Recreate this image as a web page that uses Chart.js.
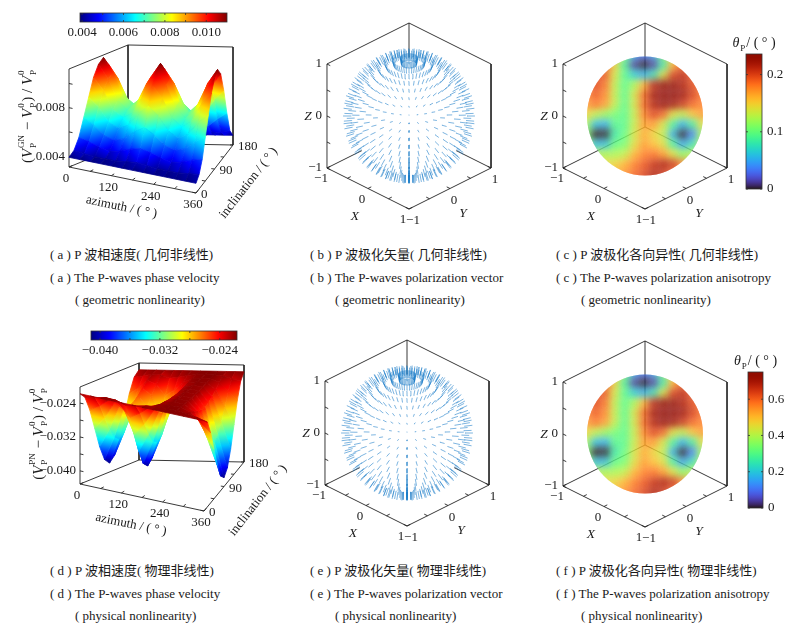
<!DOCTYPE html>
<html>
<head>
<meta charset="utf-8">
<script src="https://cdn.jsdelivr.net/npm/chart.js@4.4.1/dist/chart.umd.min.js"></script>
<style>
  body { margin: 0; background: #fff; }
  #page { position: relative; width: 800px; height: 626px; overflow: hidden; background: #fff; }
  canvas.panel { position: absolute; }
  .cap { position: absolute; font-family: "Liberation Serif", "Noto Sans CJK SC", serif; font-size: 13px;
         line-height: 14px; color: #1a1a1a; white-space: nowrap; }
</style>
</head>
<body>
<div id="page"></div>
<script>
// ---- values ----
const azimuthDeg = [0, 30, 60, 90, 120, 150, 180, 210, 240, 270, 300, 330, 360];
const inclinationDeg = [0, 15, 30, 45, 60, 75, 90, 105, 120, 135, 150, 165, 180];

// (V_P^GN - V_P^0) / V_P^0 ; rows follow inclinationDeg, columns follow azimuthDeg
const velocityGN = [
  [0.0039, 0.0039, 0.0039, 0.0039, 0.0039, 0.0039, 0.0039, 0.0039, 0.0039, 0.0039, 0.0039, 0.0039, 0.0039],
  [0.0043, 0.0042, 0.0041, 0.0041, 0.0041, 0.0042, 0.0043, 0.0042, 0.0041, 0.0041, 0.0041, 0.0042, 0.0043],
  [0.0052, 0.0050, 0.0047, 0.0045, 0.0047, 0.0050, 0.0052, 0.0050, 0.0047, 0.0045, 0.0047, 0.0050, 0.0052],
  [0.0067, 0.0062, 0.0055, 0.0052, 0.0055, 0.0062, 0.0067, 0.0062, 0.0055, 0.0052, 0.0055, 0.0062, 0.0067],
  [0.0082, 0.0075, 0.0064, 0.0060, 0.0064, 0.0075, 0.0082, 0.0075, 0.0064, 0.0059, 0.0064, 0.0075, 0.0082],
  [0.0097, 0.0087, 0.0072, 0.0067, 0.0072, 0.0087, 0.0097, 0.0087, 0.0072, 0.0066, 0.0072, 0.0087, 0.0097],
  [0.0106, 0.0095, 0.0078, 0.0071, 0.0078, 0.0095, 0.0106, 0.0095, 0.0078, 0.0070, 0.0078, 0.0095, 0.0106],
  [0.0110, 0.0098, 0.0080, 0.0073, 0.0080, 0.0098, 0.0110, 0.0098, 0.0080, 0.0072, 0.0080, 0.0098, 0.0110],
  [0.0103, 0.0092, 0.0076, 0.0070, 0.0076, 0.0092, 0.0103, 0.0092, 0.0076, 0.0069, 0.0076, 0.0092, 0.0103],
  [0.0086, 0.0078, 0.0066, 0.0061, 0.0066, 0.0078, 0.0086, 0.0078, 0.0066, 0.0061, 0.0066, 0.0078, 0.0086],
  [0.0064, 0.0059, 0.0053, 0.0051, 0.0053, 0.0059, 0.0064, 0.0059, 0.0053, 0.0050, 0.0053, 0.0059, 0.0064],
  [0.0046, 0.0045, 0.0043, 0.0042, 0.0043, 0.0045, 0.0046, 0.0045, 0.0043, 0.0042, 0.0043, 0.0045, 0.0046],
  [0.0039, 0.0039, 0.0039, 0.0039, 0.0039, 0.0039, 0.0039, 0.0039, 0.0039, 0.0039, 0.0039, 0.0039, 0.0039],
];

// (V_P^PN - V_P^0) / V_P^0
const velocityPN = [
  [-0.0218, -0.0218, -0.0218, -0.0218, -0.0218, -0.0218, -0.0218, -0.0218, -0.0218, -0.0218, -0.0218, -0.0218, -0.0218],
  [-0.0231, -0.0227, -0.0222, -0.0223, -0.0230, -0.0227, -0.0222, -0.0219, -0.0218, -0.0218, -0.0220, -0.0225, -0.0231],
  [-0.0266, -0.0251, -0.0231, -0.0239, -0.0265, -0.0250, -0.0231, -0.0221, -0.0219, -0.0219, -0.0226, -0.0246, -0.0266],
  [-0.0314, -0.0284, -0.0244, -0.0259, -0.0312, -0.0282, -0.0244, -0.0223, -0.0219, -0.0220, -0.0234, -0.0274, -0.0314],
  [-0.0362, -0.0317, -0.0257, -0.0280, -0.0358, -0.0313, -0.0257, -0.0226, -0.0220, -0.0221, -0.0242, -0.0302, -0.0362],
  [-0.0397, -0.0341, -0.0267, -0.0295, -0.0393, -0.0337, -0.0267, -0.0227, -0.0220, -0.0222, -0.0248, -0.0323, -0.0397],
  [-0.0410, -0.0350, -0.0270, -0.0300, -0.0405, -0.0345, -0.0270, -0.0228, -0.0220, -0.0222, -0.0250, -0.0330, -0.0410],
  [-0.0397, -0.0341, -0.0267, -0.0295, -0.0393, -0.0337, -0.0267, -0.0227, -0.0220, -0.0222, -0.0248, -0.0323, -0.0397],
  [-0.0362, -0.0317, -0.0257, -0.0280, -0.0358, -0.0313, -0.0257, -0.0226, -0.0220, -0.0221, -0.0242, -0.0302, -0.0362],
  [-0.0314, -0.0284, -0.0244, -0.0259, -0.0312, -0.0282, -0.0244, -0.0223, -0.0219, -0.0220, -0.0234, -0.0274, -0.0314],
  [-0.0266, -0.0251, -0.0231, -0.0239, -0.0265, -0.0250, -0.0231, -0.0221, -0.0219, -0.0219, -0.0226, -0.0246, -0.0266],
  [-0.0231, -0.0227, -0.0222, -0.0223, -0.0230, -0.0227, -0.0222, -0.0219, -0.0218, -0.0218, -0.0220, -0.0225, -0.0231],
  [-0.0218, -0.0218, -0.0218, -0.0218, -0.0218, -0.0218, -0.0218, -0.0218, -0.0218, -0.0218, -0.0218, -0.0218, -0.0218],
];

const azTicks = [0, 60, 120, 180, 240, 300, 360];
const azTickLabels = ["0", "", "120", "", "240", "", "360"];
const incTicks = [0, 45, 90, 135, 180];
const incTickLabels = ["0", "", "90", "", "180"];
const gnZTicks = [0.004, 0.006, 0.008, 0.010];
const gnZTickLabels = ["0.004", "", "0.008", ""];
const pnZTicks = [-0.040, -0.036, -0.032, -0.028, -0.024];
const pnZTickLabels = ["\u22120.040", "", "\u22120.032", "", "\u22120.024"];
const gnBarTicks = [0.004, 0.005, 0.006, 0.007, 0.008, 0.009, 0.010];
const gnBarLabels = ["0.004", "", "0.006", "", "0.008", "", "0.010"];
const pnBarTicks = [-0.040, -0.036, -0.032, -0.028, -0.024];
const pnBarLabels = ["\u22120.040", "", "\u22120.032", "", "\u22120.024"];

// polarization vectors: sampled propagation directions (deg) and drawn arrow length
const polarInc = [0, 7.5, 15, 22.5, 30, 37.5, 45, 52.5, 60, 67.5, 75, 82.5, 90, 97.5, 105, 112.5,
  120, 127.5, 135, 142.5, 150, 157.5, 165, 172.5, 180];
const polarAz = [0, 9, 18, 27, 36, 45, 54, 63, 72, 81, 90, 99, 108, 117, 126, 135, 144, 153, 162, 171,
  180, 189, 198, 207, 216, 225, 234, 243, 252, 261, 270, 279, 288, 297, 306, 315, 324, 333, 342, 351];
const arrowLength = 0.13;

// polarization anisotropy on the visible disc, as a fraction of the colour bar range
// rows top -> bottom, columns left -> right (null = outside the disc)
const anisoLevel = [
  [null, null, null, 0.70, 0.42, 0.20, 0.12, 0.20, 0.45, 0.70, null, null, null],
  [null, null, 0.82, 0.62, 0.38, 0.05, 0.00, 0.05, 0.35, 0.68, 0.82, null, null],
  [null, 0.85, 0.82, 0.58, 0.40, 0.28, 0.22, 0.32, 0.58, 0.85, 0.90, 0.82, null],
  [0.78, 0.85, 0.78, 0.55, 0.40, 0.52, 0.68, 0.90, 0.98, 1.00, 0.92, 0.84, 0.76],
  [0.75, 0.82, 0.75, 0.55, 0.40, 0.58, 0.80, 0.95, 1.00, 1.00, 0.95, 0.86, 0.78],
  [0.72, 0.78, 0.72, 0.55, 0.40, 0.58, 0.80, 0.92, 0.98, 0.95, 0.88, 0.80, 0.76],
  [0.62, 0.55, 0.50, 0.45, 0.40, 0.56, 0.76, 0.85, 0.80, 0.60, 0.55, 0.65, 0.72],
  [0.52, 0.25, 0.22, 0.40, 0.40, 0.56, 0.72, 0.72, 0.58, 0.38, 0.22, 0.36, 0.60],
  [0.45, 0.00, 0.00, 0.35, 0.42, 0.58, 0.70, 0.62, 0.55, 0.22, 0.00, 0.15, 0.50],
  [0.50, 0.25, 0.25, 0.42, 0.45, 0.60, 0.72, 0.66, 0.60, 0.38, 0.20, 0.32, 0.55],
  [null, 0.55, 0.52, 0.52, 0.55, 0.68, 0.76, 0.78, 0.72, 0.60, 0.48, 0.55, null],
  [null, null, 0.62, 0.62, 0.68, 0.76, 0.82, 0.88, 0.92, 0.88, 0.76, null, null],
  [null, null, null, 0.70, 0.74, 0.80, 0.85, 0.92, 0.88, 0.80, null, null, null],
];
const anisoMaxGN = 0.236;
const anisoMaxPN = 0.75;
const anisoTicksGN = [0, 0.1, 0.2];
const anisoTicksPN = [0, 0.2, 0.4, 0.6];
const cubeTicks = [-1, -0.5, 0, 0.5, 1];
const cubeTickLabels = ["\u22121", "", "0", "", "1"];

const captions = [
  ["( a ) P 波相速度( 几何非线性)", "( a ) The P-waves phase velocity", "( geometric nonlinearity)"],
  ["( b ) P 波极化矢量( 几何非线性)", "( b ) The P-waves polarization vector", "( geometric nonlinearity)"],
  ["( c ) P 波极化各向异性( 几何非线性)", "( c ) The P-waves polarization anisotropy", "( geometric nonlinearity)"],
  ["( d ) P 波相速度( 物理非线性)", "( d ) The P-waves phase velocity", "( physical nonlinearity)"],
  ["( e ) P 波极化矢量( 物理非线性)", "( e ) The P-waves polarization vector", "( physical nonlinearity)"],
  ["( f ) P 波极化各向异性( 物理非线性)", "( f ) The P-waves polarization anisotropy", "( physical nonlinearity)"],
];

// ---- helpers ----
const page = document.getElementById("page");
const GAP = { x: null, y: null };
const clamp01 = (t) => Math.max(0, Math.min(1, t));
const css = (c) => `rgb(${c[0]},${c[1]},${c[2]})`;
const serif = (size, italic) => `${italic ? "italic " : ""}${size}px "Liberation Serif", serif`;
const finite = (...v) => v.every(Number.isFinite);

function jet(t) {
  t = clamp01(t);
  const f = (c) => Math.round(255 * clamp01(1.5 - Math.abs(4 * t - c)));
  return [f(3), f(2), f(1)];
}

function turbo(t) {
  t = clamp01(t);
  const r = 0.13572138 + t * (4.6153926 + t * (-42.66032258 + t * (132.13108234 + t * (-152.94239396 + t * 59.28637943))));
  const g = 0.09140261 + t * (2.19418839 + t * (4.84296658 + t * (-14.18503333 + t * (4.27729857 + t * 2.82956604))));
  const b = 0.1066733 + t * (12.64194608 + t * (-60.58204836 + t * (110.36276771 + t * (-89.90310912 + t * 27.34824973))));
  return [r, g, b].map((c) => Math.round(255 * clamp01(c)));
}

function drawRich(ctx, runs, size, x, y, rot) {
  const small = Math.round(size * 0.62);
  const widths = runs.map((r) => {
    ctx.font = serif(size, r.it);
    const w = ctx.measureText(r.t).width;
    ctx.font = serif(small, false);
    const ws = Math.max(r.sup ? ctx.measureText(r.sup).width : 0, r.sub ? ctx.measureText(r.sub).width : 0);
    return [w, ws];
  });
  const total = widths.reduce((s, [w, ws]) => s + w + (ws ? ws + 2 : 0), 0);
  ctx.save();
  ctx.translate(x, y);
  ctx.rotate((rot * Math.PI) / 180);
  ctx.textAlign = "left";
  ctx.textBaseline = "middle";
  let cx = -total / 2;
  runs.forEach((r, i) => {
    ctx.font = serif(size, r.it);
    ctx.fillText(r.t, cx, 0);
    cx += widths[i][0];
    if (widths[i][1]) {
      ctx.font = serif(small, false);
      if (r.sup) ctx.fillText(r.sup, cx + 1, -size * 0.42);
      if (r.sub) ctx.fillText(r.sub, cx + 1, size * 0.38);
      cx += widths[i][1] + 2;
    }
  });
  ctx.restore();
}

function textPlugin(items) {
  return {
    id: "panelText",
    afterDraw(chart) {
      const { ctx } = chart;
      const sx = chart.scales.x, sy = chart.scales.y;
      ctx.save();
      ctx.fillStyle = "#1a1a1a";
      for (const it of items) {
        const x = sx.getPixelForValue(it.x), y = sy.getPixelForValue(it.y);
        if (it.rich) {
          drawRich(ctx, it.rich, it.size || 13, x, y, it.rot || 0);
          continue;
        }
        ctx.save();
        ctx.translate(x, y);
        ctx.rotate(((it.rot || 0) * Math.PI) / 180);
        ctx.font = serif(it.size || 13, it.it);
        ctx.textAlign = it.align || "center";
        ctx.textBaseline = "middle";
        ctx.fillText(it.text, 0, 0);
        ctx.restore();
      }
      ctx.restore();
    },
  };
}

function colorbarPlugin(bar) {
  return {
    id: "colorbar",
    afterDatasetsDraw(chart) {
      const { ctx } = chart;
      const sx = chart.scales.x, sy = chart.scales.y;
      const x0 = sx.getPixelForValue(bar.x0), x1 = sx.getPixelForValue(bar.x1);
      const y0 = sy.getPixelForValue(bar.y0), y1 = sy.getPixelForValue(bar.y1);
      if (!finite(x0, x1, y0, y1)) return;
      const horiz = bar.orient === "h";
      const grad = horiz ? ctx.createLinearGradient(x0, 0, x1, 0) : ctx.createLinearGradient(0, y1, 0, y0);
      for (let i = 0; i <= 40; i++) grad.addColorStop(i / 40, css(bar.cmap(i / 40)));
      ctx.save();
      ctx.fillStyle = grad;
      ctx.fillRect(x0, y0, x1 - x0, y1 - y0);
      ctx.strokeStyle = "#333";
      ctx.lineWidth = 0.8;
      ctx.strokeRect(x0, y0, x1 - x0, y1 - y0);
      ctx.fillStyle = "#1a1a1a";
      ctx.font = serif(13, false);
      ctx.textBaseline = "middle";
      bar.ticks.forEach((v, i) => {
        const f = (v - bar.vmin) / (bar.vmax - bar.vmin);
        ctx.beginPath();
        if (horiz) {
          const x = x0 + f * (x1 - x0);
          ctx.moveTo(x, y0); ctx.lineTo(x, y0 + 2);
          ctx.moveTo(x, y1); ctx.lineTo(x, y1 - 2);
          ctx.stroke();
          ctx.textAlign = "center";
          if (bar.labels[i]) ctx.fillText(bar.labels[i], x, y1 + 11);
        } else {
          const y = y1 - f * (y1 - y0);
          ctx.moveTo(x0, y); ctx.lineTo(x0 + 2, y);
          ctx.moveTo(x1, y); ctx.lineTo(x1 - 2, y);
          ctx.stroke();
          ctx.textAlign = "left";
          if (bar.labels[i]) ctx.fillText(bar.labels[i], x1 + 5, y);
        }
      });
      ctx.restore();
    },
  };
}

// clip + soften the colour cells of the anisotropy spheres
const discPlugin = {
  id: "disc",
  beforeDatasetDraw(chart, args) {
    const ds = chart.data.datasets[args.index];
    if (!ds.disc) return;
    const sx = chart.scales.x, sy = chart.scales.y;
    const { ctx } = chart;
    ctx.save();
    ctx.beginPath();
    ctx.ellipse(sx.getPixelForValue(ds.disc.cx), sy.getPixelForValue(ds.disc.cy), ds.disc.rx, ds.disc.ry, 0, 0, Math.PI * 2);
    ctx.clip();
    ctx.filter = "blur(4px)";
  },
  afterDatasetDraw(chart, args) {
    if (chart.data.datasets[args.index].disc) chart.ctx.restore();
  },
};

function makeChart(left, top, width, height, datasets, plugins) {
  const canvas = document.createElement("canvas");
  canvas.className = "panel";
  canvas.width = width;
  canvas.height = height;
  canvas.style.left = left + "px";
  canvas.style.top = top + "px";
  canvas.style.width = width + "px";
  canvas.style.height = height + "px";
  page.appendChild(canvas);
  return new Chart(canvas, {
    type: "scatter",
    data: { datasets },
    options: {
      responsive: false,
      animation: false,
      events: [],
      layout: { padding: 0, autoPadding: false },
      plugins: { legend: { display: false }, tooltip: { enabled: false } },
      scales: {
        x: { type: "linear", min: left, max: left + width, display: false },
        y: { type: "linear", min: top, max: top + height, reverse: true, display: false },
      },
    },
    plugins,
  });
}

function lineSet(points, color, width, order) {
  return {
    type: "line", data: points, borderColor: color, borderWidth: width, pointRadius: 0,
    fill: false, tension: 0, spanGaps: false, order,
  };
}

// ---- (a), (d) surfaces ----
function surfacePanel(cfg) {
  const b = cfg.box;
  const ground = (az, inc) => {
    const u = az / 360, v = inc / 180;
    const w = [(1 - u) * (1 - v), u * (1 - v), u * v, (1 - u) * v];
    const c = [b.flb, b.frb, b.brb, b.blb];
    return {
      x: w.reduce((s, k, i) => s + k * c[i][0], 0),
      y: w.reduce((s, k, i) => s + k * c[i][1], 0),
    };
  };
  const proj = (az, inc, val) => {
    const g = ground(az, inc);
    return { x: g.x, y: g.y - (val - b.zmin) * b.zpx };
  };

  // frame (back planes) and ticks
  const frame = [];
  [
    [[0, 0, b.zmin], [360, 0, b.zmin], [360, 180, b.zmin], [0, 180, b.zmin], [0, 0, b.zmin]],
    [[0, 0, b.zmin], [0, 0, b.zmax], [0, 180, b.zmax], [0, 180, b.zmin]],
    [[0, 180, b.zmax], [360, 180, b.zmax], [360, 180, b.zmin]],
  ].forEach((path) => { path.forEach((p) => frame.push(proj(...p))); frame.push(GAP); });
  cfg.zTicks.forEach((z) => frame.push(proj(0, 0, z), proj(10, 0, z), GAP));
  azTicks.forEach((a) => frame.push(proj(a, 0, b.zmin), proj(a, 10, b.zmin), GAP));
  incTicks.forEach((i) => frame.push(proj(360, i, b.zmin), proj(350, i, b.zmin), GAP));

  // surface patches, far ones first
  const quads = [];
  for (let i = 0; i < inclinationDeg.length - 1; i++) {
    for (let j = 0; j < azimuthDeg.length - 1; j++) {
      const idx = [[i, j], [i, j + 1], [i + 1, j + 1], [i + 1, j]];
      const vals = idx.map(([r, c]) => cfg.values[r][c]);
      const pts = idx.map(([r, c]) => proj(azimuthDeg[c], inclinationDeg[r], cfg.values[r][c]));
      const mid = ground((azimuthDeg[j] + azimuthDeg[j + 1]) / 2, (inclinationDeg[i] + inclinationDeg[i + 1]) / 2);
      quads.push({ vals, pts, depth: mid.y });
    }
  }
  quads.sort((p, q) => p.depth - q.depth);
  const n = quads.length;
  const datasets = [lineSet(frame, "#222", 0.9, n + 10)];
  quads.forEach((q, k) => {
    let lo = 0, hi = 0;
    q.vals.forEach((v, m) => { if (v < q.vals[lo]) lo = m; if (v > q.vals[hi]) hi = m; });
    const t0 = (q.vals[lo] - cfg.cmin) / (cfg.cmax - cfg.cmin);
    const t1 = (q.vals[hi] - cfg.cmin) / (cfg.cmax - cfg.cmin);
    const paint = (ctx) => {
      const chart = ctx.chart, sx = chart.scales.x, sy = chart.scales.y;
      const solid = css(jet((t0 + t1) / 2));
      if (!sx || !sy || t1 - t0 < 0.003) return solid;
      const ax = sx.getPixelForValue(q.pts[lo].x), ay = sy.getPixelForValue(q.pts[lo].y);
      const bx = sx.getPixelForValue(q.pts[hi].x), by = sy.getPixelForValue(q.pts[hi].y);
      if (!finite(ax, ay, bx, by) || Math.hypot(bx - ax, by - ay) < 0.5) return solid;
      const g = chart.ctx.createLinearGradient(ax, ay, bx, by);
      for (let s = 0; s <= 4; s++) g.addColorStop(s / 4, css(jet(t0 + ((t1 - t0) * s) / 4)));
      return g;
    };
    datasets.push({
      type: "line", data: [...q.pts, q.pts[0]], fill: "shape", backgroundColor: paint, borderColor: paint,
      borderWidth: 0.8, pointRadius: 0, tension: 0, order: n - k,
    });
  });

  // texts
  const items = [];
  const flt = proj(0, 0, b.zmax), flb = proj(0, 0, b.zmin);
  cfg.zTicks.forEach((z, i) => {
    if (!cfg.zLabels[i]) return;
    const p = proj(0, 0, z);
    items.push({ x: p.x - 4, y: p.y, text: cfg.zLabels[i], align: "right" });
  });
  azTicks.forEach((a, i) => {
    if (!azTickLabels[i]) return;
    const p = proj(a, 0, b.zmin);
    items.push({ x: p.x - 3, y: p.y + 12, text: azTickLabels[i] });
  });
  incTicks.forEach((v, i) => {
    if (!incTickLabels[i]) return;
    const p = proj(360, v, b.zmin);
    items.push({ x: p.x + 5, y: p.y + 2, text: incTickLabels[i], align: "left" });
  });
  const azMid = proj(180, 0, b.zmin), incMid = proj(360, 90, b.zmin);
  items.push({ x: azMid.x - 11, y: azMid.y + 27, text: "azimuth / ( \u00b0 )", rot: 11.6 });
  items.push({ x: incMid.x + 34, y: incMid.y + 14, text: "inclination / ( \u00b0 )", rot: -52 });
  items.push({ x: flb.x - 41, y: (flb.y + flt.y) / 2 - 2, rich: cfg.title, size: 15, rot: -90 });

  makeChart(cfg.left, cfg.top, cfg.width, cfg.height, datasets, [textPlugin(items), colorbarPlugin(cfg.bar)]);
}

// ---- spheres ----
function sphereProj(cx, cy) {
  return (x, y, z) => ({ x: cx + (58 / Math.SQRT2) * (x + y), y: cy - 52 * z + 20.5 * (x - y) });
}
const VIEW = [0.618, -0.618, 0.487];

function cubeFrame(proj) {
  const pts = [];
  [
    [[-1, -1, -1], [1, -1, -1], [1, 1, -1], [-1, 1, -1], [-1, -1, -1]],
    [[-1, -1, -1], [-1, -1, 1], [-1, 1, 1], [1, 1, 1], [1, 1, -1]],
    [[-1, 1, -1], [-1, 1, 1]],
  ].forEach((path) => { path.forEach((p) => pts.push(proj(...p))); pts.push(GAP); });
  cubeTicks.forEach((t) => {
    pts.push(proj(-1, -1, t), proj(-0.92, -1, t), GAP);
    pts.push(proj(t, -1, -1), proj(t, -0.92, -1), GAP);
    pts.push(proj(1, t, -1), proj(0.92, t, -1), GAP);
  });
  return pts;
}

function cubeTexts(proj) {
  const items = [];
  cubeTicks.forEach((t, i) => {
    const lab = cubeTickLabels[i];
    if (!lab) return;
    const pz = proj(-1, -1, t), px = proj(t, -1, -1), py = proj(1, t, -1);
    items.push({ x: pz.x - 5, y: pz.y, text: lab, align: "right" });
    items.push({ x: px.x - 6, y: px.y + 11, text: lab });
    items.push({ x: py.x + 4, y: py.y + 12, text: lab });
  });
  const z0 = proj(-1, -1, 0), x0 = proj(0, -1, -1), y0 = proj(1, 0, -1);
  items.push({ x: z0.x - 19, y: z0.y, text: "Z", it: true, size: 13.5 });
  items.push({ x: x0.x - 13, y: x0.y + 28, text: "X", it: true, size: 13.5 });
  items.push({ x: y0.x + 13, y: y0.y + 25, text: "Y", it: true, size: 13.5 });
  return items;
}

function quiverPanel(left, top, cx, cy) {
  const proj = sphereProj(cx, cy);
  const arrows = [];
  polarInc.forEach((inc) => {
    const azs = inc === 0 || inc === 180 ? [0] : polarAz;
    azs.forEach((az) => {
      const t = (inc * Math.PI) / 180, p = (az * Math.PI) / 180;
      const nrm = [Math.sin(t) * Math.cos(p), Math.sin(t) * Math.sin(p), Math.cos(t)];
      if (nrm[0] * VIEW[0] + nrm[1] * VIEW[1] + nrm[2] * VIEW[2] < -0.12) return;
      const k = 1 + arrowLength;
      arrows.push(proj(...nrm), proj(nrm[0] * k, nrm[1] * k, nrm[2] * k), GAP);
    });
  });
  const datasets = [
    lineSet(cubeFrame(proj), "#222", 0.9, 3),
    { type: "scatter", data: [{ x: cx, y: cy }], pointRadius: 58.5, pointBackgroundColor: "#fff", pointBorderWidth: 0, order: 2 },
    Object.assign(lineSet(arrows, "rgba(30,125,200,0.72)", 0.8, 1), { borderCapStyle: "round" }),
  ];
  makeChart(left, top, 240, 232, datasets, [textPlugin(cubeTexts(proj))]);
}

function anisoPanel(left, top, cx, cy, vmax, ticks, barBox) {
  const proj = sphereProj(cx, cy);
  const n = anisoLevel.length, half = (n - 1) / 2;
  const cells = [], colors = [];
  anisoLevel.forEach((row, r) => row.forEach((lv, c) => {
    if (lv === null) return;
    cells.push({ x: cx + ((c - half) / half) * 58, y: cy + ((r - half) / half) * 59.5 });
    colors.push(css(turbo(lv)));
  }));
  const datasets = [
    lineSet(cubeFrame(proj), "#222", 0.9, 3),
    {
      type: "scatter", data: cells, pointStyle: "rect", pointRadius: 8, pointBackgroundColor: colors,
      pointBorderWidth: 0, order: 1, disc: { cx, cy, rx: 58, ry: 59.5 },
    },
  ];
  const items = cubeTexts(proj);
  items.push({
    x: (barBox.x0 + barBox.x1) / 2, y: barBox.y0 - 11, size: 14,
    rich: [{ t: "\u03b8", it: true, sub: "P" }, { t: "/ ( \u00b0 )" }],
  });
  const bar = Object.assign({ orient: "v", vmin: 0, vmax, cmap: turbo, ticks, labels: ticks.map(String) }, barBox);
  makeChart(left, top, 270, 232, datasets, [textPlugin(items), colorbarPlugin(bar), discPlugin]);
}

// ---- captions ----
const capLeft = [50, 310, 556];
captions.forEach((lines, k) => {
  const rowTop = k < 3 ? 248 : 564;
  lines.forEach((txt, j) => {
    const d = document.createElement("div");
    d.className = "cap";
    d.textContent = txt;
    d.style.left = capLeft[k % 3] + (j === 2 ? 25 : 0) + "px";
    d.style.top = rowTop + j * 22.5 + "px";
    page.appendChild(d);
  });
});

// ---- build the six panels ----
surfacePanel({
  left: 0, top: 0, width: 300, height: 232, values: velocityGN, cmin: 0.0039, cmax: 0.0110,
  box: { flb: [69, 167], frb: [196, 193], brb: [233, 145], blb: [128, 143], zmin: 0.0031, zmax: 0.0112, zpx: 12099 },
  zTicks: gnZTicks, zLabels: gnZTickLabels,
  title: [{ t: "(" }, { t: "V", it: true, sup: "GN", sub: "P" }, { t: " \u2212 " }, { t: "V", it: true, sup: "0", sub: "P" },
    { t: ") / " }, { t: "V", it: true, sup: "0", sub: "P" }],
  bar: { orient: "h", x0: 80, x1: 227, y0: 13, y1: 22, vmin: 0.0039, vmax: 0.0110, cmap: jet, ticks: gnBarTicks, labels: gnBarLabels },
});
surfacePanel({
  left: 0, top: 318, width: 300, height: 235, values: velocityPN, cmin: -0.0412, cmax: -0.0217,
  box: { flb: [80, 484], frb: [204, 511], brb: [244, 462], blb: [139, 460], zmin: -0.0431, zmax: -0.0202, zpx: 4236 },
  zTicks: pnZTicks, zLabels: pnZTickLabels,
  title: [{ t: "(" }, { t: "V", it: true, sup: "PN", sub: "P" }, { t: " \u2212 " }, { t: "V", it: true, sup: "0", sub: "P" },
    { t: ") / " }, { t: "V", it: true, sup: "0", sub: "P" }],
  bar: { orient: "h", x0: 91, x1: 237, y0: 331, y1: 340, vmin: -0.0412, vmax: -0.0217, cmap: jet, ticks: pnBarTicks, labels: pnBarLabels },
});
quiverPanel(290, 0, 409, 116);
quiverPanel(290, 318, 407, 433);
anisoPanel(530, 0, 645, 116, anisoMaxGN, anisoTicksGN, { x0: 746, x1: 762, y0: 54, y1: 189 });
anisoPanel(530, 318, 645, 434, anisoMaxPN, anisoTicksPN, { x0: 748, x1: 763, y0: 372, y1: 508 });
</script>
</body>
</html>
